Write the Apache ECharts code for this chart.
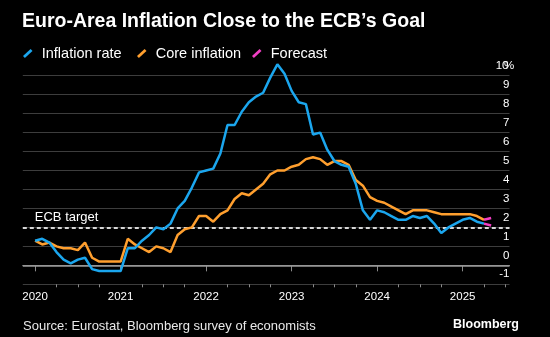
<!DOCTYPE html>
<html>
<head>
<meta charset="utf-8">
<script src="https://cdn.jsdelivr.net/npm/echarts@6/dist/echarts.min.js"></script>
<style>
  html, body { margin: 0; padding: 0; background: #000; }
  #chart { width: 550px; height: 337px; }
</style>
</head>
<body>
<div id="chart"></div>
<script>
// Monthly readings (year-on-year %, euro area)
const months = [
  '2019-12',
  '2020-01','2020-02','2020-03','2020-04','2020-05','2020-06','2020-07','2020-08','2020-09','2020-10','2020-11','2020-12',
  '2021-01','2021-02','2021-03','2021-04','2021-05','2021-06','2021-07','2021-08','2021-09','2021-10','2021-11','2021-12',
  '2022-01','2022-02','2022-03','2022-04','2022-05','2022-06','2022-07','2022-08','2022-09','2022-10','2022-11','2022-12',
  '2023-01','2023-02','2023-03','2023-04','2023-05','2023-06','2023-07','2023-08','2023-09','2023-10','2023-11','2023-12',
  '2024-01','2024-02','2024-03','2024-04','2024-05','2024-06','2024-07','2024-08','2024-09','2024-10','2024-11','2024-12',
  '2025-01','2025-02','2025-03'
];
const inflationRate = [
  1.3,
  1.4, 1.2, 0.7, 0.3, 0.1, 0.3, 0.4, -0.2, -0.3, -0.3, -0.3, -0.3,
  0.9, 0.9, 1.3, 1.6, 2.0, 1.9, 2.2, 3.0, 3.4, 4.1, 4.9, 5.0,
  5.1, 5.9, 7.4, 7.4, 8.1, 8.6, 8.9, 9.1, 9.9, 10.6, 10.1, 9.2,
  8.6, 8.5, 6.9, 7.0, 6.1, 5.5, 5.3, 5.2, 4.3, 2.9, 2.4, 2.9,
  2.8, 2.6, 2.4, 2.4, 2.6, 2.5, 2.6, 2.2, 1.7, 2.0, 2.2, 2.4,
  2.5, 2.3, 2.2
];
const coreInflation = [
  1.3,
  1.1, 1.2, 1.0, 0.9, 0.9, 0.8, 1.2, 0.4, 0.2, 0.2, 0.2, 0.2,
  1.4, 1.1, 0.9, 0.7, 1.0, 0.9, 0.7, 1.6, 1.9, 2.0, 2.6, 2.6,
  2.3, 2.7, 2.9, 3.5, 3.8, 3.7, 4.0, 4.3, 4.8, 5.0, 5.0, 5.2,
  5.3, 5.6, 5.7, 5.6, 5.3, 5.5, 5.5, 5.3, 4.5, 4.2, 3.6, 3.4,
  3.3, 3.1, 2.9, 2.7, 2.9, 2.9, 2.9, 2.8, 2.7, 2.7, 2.7, 2.7,
  2.7, 2.6, 2.4
];
// Survey forecast for the next month
const forecastMonth = '2025-04';
const forecastInflation = 2.1;
const forecastCore = 2.5;

const ecbTarget = 2;
const yearLabels = [2020, 2021, 2022, 2023, 2024, 2025];
const legendNames = ['Inflation rate', 'Core inflation', 'Forecast'];

// Each monthly reading sits at the end of its month on a decimal-year axis
function monthEnd(s) {
  const parts = s.split('-').map(Number);
  return parts[0] + parts[1] / 12;
}
function toPoints(values) {
  return values.map((v, i) => [monthEnd(months[i]), v]);
}
const lastMonth = months[months.length - 1];
const forecastHeadline = [
  [monthEnd(lastMonth), inflationRate[inflationRate.length - 1]],
  [monthEnd(forecastMonth), forecastInflation]
];
const forecastCoreLine = [
  [monthEnd(lastMonth), coreInflation[coreInflation.length - 1]],
  [monthEnd(forecastMonth), forecastCore]
];

const X_MIN = 2019.856, X_MAX = 2025.548;
const quarterTicks = [];
yearLabels.forEach(y => [0.25, 0.5, 0.75].forEach(q => {
  if (y + q <= X_MAX) quarterTicks.push(y + q);
}));

const BLUE = '#1ba6ee', ORANGE = '#ff9f2e', PINK = '#f23fc4';
const FONT = 'Liberation Sans, Arial, sans-serif';

// One legend block per entry so each one starts at its own x position
const legendLefts = [23, 137, 252];
const legends = legendNames.map((name, i) => ({
  left: legendLefts[i], top: 46, padding: 0,
  itemWidth: 10, itemHeight: 9, itemGap: 0,
  icon: 'path://M0,7.4 L8.1,0 L10.1,2.2 L2,9.6 Z',
  textStyle: { color: '#fff', fontSize: 14.5, fontFamily: FONT, padding: [0, 0, 0, 4] },
  data: [name]
}));

const chart = echarts.init(document.getElementById('chart'), null, { renderer: 'canvas' });
chart.setOption({
  backgroundColor: '#000',
  animation: false,
  textStyle: { fontFamily: FONT },
  title: {
    text: 'Euro-Area Inflation Close to the ECB\u2019s Goal',
    left: 22, top: 12, padding: 0,
    textStyle: { color: '#fff', fontSize: 19.5, fontWeight: 'bold', fontFamily: FONT }
  },
  legend: legends,
  grid: { left: 22.8, right: 40.5, top: 75.7, bottom: 52.7, outerBoundsMode: 'none' },
  xAxis: [{
    type: 'value', min: X_MIN, max: X_MAX,
    axisLine: { show: true, lineStyle: { color: '#8a8a8a', width: 1 } },
    axisTick: { show: true, length: 6, lineStyle: { color: '#8a8a8a' }, customValues: yearLabels },
    axisLabel: { color: '#fff', fontSize: 11.5, margin: 7, customValues: yearLabels,
      formatter: v => String(Math.round(v)) },
    splitLine: { show: false }
  }, {
    type: 'value', min: X_MIN, max: X_MAX, position: 'bottom',
    axisLine: { show: false },
    axisTick: { show: true, length: 3, lineStyle: { color: '#8a8a8a' }, customValues: quarterTicks },
    axisLabel: { show: false },
    splitLine: { show: false }
  }],
  yAxis: {
    type: 'value', position: 'right', min: -1, max: 10, interval: 1,
    axisLine: { show: false }, axisTick: { show: false },
    splitLine: { lineStyle: { color: '#3d3d3d', width: 1 } },
    axisLabel: {
      inside: true, margin: 0, color: '#fff', fontSize: 11.5,
      verticalAlign: 'bottom', padding: [0, 0, 4, 0],
      formatter: v => v === 10 ? '{n|10}{p|%}' : String(v),
      rich: {
        n: { color: '#fff', fontSize: 11.5, fontFamily: FONT },
        p: { color: '#fff', fontSize: 11.5, fontFamily: FONT, width: 1, align: 'left' }
      }
    }
  },
  series: [
    {
      name: 'Core inflation', type: 'line', z: 2, clip: false,
      data: toPoints(coreInflation), showSymbol: false,
      lineStyle: { color: ORANGE, width: 2.5 }, itemStyle: { color: ORANGE },
      markLine: {
        silent: true, symbol: ['none', 'none'], z: 1,
        data: [
          {
            yAxis: ecbTarget,
            lineStyle: { color: '#d6d6d6', width: 2, type: [4, 3] },
            label: { show: true, position: 'insideStartTop', formatter: 'ECB target',
              color: '#fff', fontSize: 13, fontFamily: FONT, distance: [12, 3] }
          },
          {
            yAxis: 0,
            lineStyle: { color: '#9a9a9a', width: 1.5, type: 'solid' },
            label: { show: false }
          }
        ]
      }
    },
    {
      name: 'Inflation rate', type: 'line', z: 3, clip: false,
      data: toPoints(inflationRate), showSymbol: false,
      lineStyle: { color: BLUE, width: 2.5 }, itemStyle: { color: BLUE }
    },
    {
      name: 'Forecast', type: 'line', z: 4, clip: false,
      data: forecastHeadline, showSymbol: false,
      lineStyle: { color: PINK, width: 2.5 }, itemStyle: { color: PINK }
    },
    {
      name: 'Forecast', type: 'line', z: 4, clip: false,
      data: forecastCoreLine, showSymbol: false,
      lineStyle: { color: PINK, width: 2.5 }, itemStyle: { color: PINK }
    }
  ],
  graphic: [
    {
      type: 'text', left: 23, top: 320,
      style: { text: 'Source: Eurostat, Bloomberg survey of economists', fill: '#e8e8e8',
        fontSize: 13, fontFamily: FONT }
    },
    {
      type: 'text', right: 31, top: 318,
      style: { text: 'Bloomberg', fill: '#fff', fontSize: 12.5, fontWeight: 'bold', fontFamily: FONT }
    }
  ]
});
</script>
</body>
</html>
